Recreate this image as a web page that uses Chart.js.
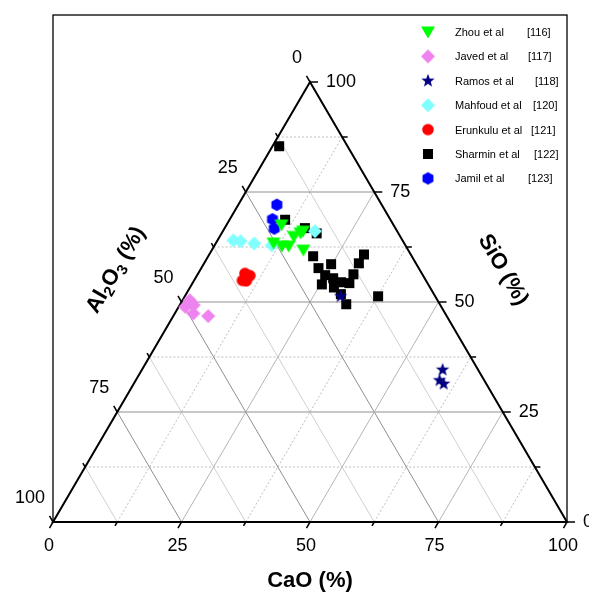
<!DOCTYPE html>
<html>
<head>
<meta charset="utf-8">
<script src="https://cdn.jsdelivr.net/npm/chart.js@4.4.1/dist/chart.umd.min.js"></script>
<style>
  html, body { margin: 0; padding: 0; background: #fff; }
</style>
</head>
<body>
<canvas id="ternary" width="589" height="594"></canvas>
<script>
// compositions, each point is [CaO, SiO, Al2O3] in %
const zhou = [[10.7, 67.5, 21.8], [14.4, 64.9, 20.7], [15.3, 65.7, 19.0], [15.6, 66.1, 18.3],
              [11.2, 63.4, 25.4], [13.2, 62.7, 24.1], [14.5, 62.7, 22.8], [17.8, 61.8, 20.4]];
const javed = [[1.4, 50.4, 48.2], [1.3, 48.9, 49.8], [2.7, 49.3, 48.0], [3.6, 47.4, 49.0], [6.8, 46.8, 46.4]];
const ramos = [[30.3, 51.3, 18.4], [58.5, 34.6, 6.9], [59.1, 32.2, 8.7], [60.3, 31.4, 8.3]];
const mahfoud = [[3.1, 64.0, 32.9], [4.6, 63.8, 31.6], [7.5, 63.3, 29.2], [11.1, 62.9, 26.0], [17.9, 66.1, 16.0]];
const erunkulu = [[9.1, 56.5, 34.4], [10.3, 56.0, 33.7], [9.4, 54.9, 35.7], [10.2, 54.8, 35.0]];
const sharmin = [[1.3, 85.4, 13.3], [10.8, 68.7, 20.5], [15.6, 66.8, 17.6], [18.5, 65.6, 15.9],
                 [20.4, 60.4, 19.2], [22.8, 57.7, 19.5], [24.8, 58.6, 16.6], [24.9, 56.1, 19.0],
                 [26.8, 55.4, 17.8], [25.3, 54.0, 20.7], [28.8, 54.5, 16.7], [30.5, 54.3, 15.2],
                 [30.3, 56.3, 13.4], [30.1, 58.8, 11.1], [30.1, 60.8, 9.1], [28.0, 53.3, 18.7],
                 [30.1, 51.8, 18.1], [32.3, 49.5, 18.2], [37.6, 51.3, 11.1]];
const jamil = [[7.5, 72.1, 20.4], [8.3, 68.8, 22.9], [9.7, 66.7, 23.6]];

const seriesNames = ['Zhou et al', 'Javed et al', 'Ramos et al', 'Mahfoud et al', 'Erunkulu et al', 'Sharmin et al', 'Jamil et al'];
const seriesRefs = ['[116]', '[117]', '[118]', '[120]', '[121]', '[122]', '[123]'];
const majorTicks = [0, 25, 50, 75, 100];
const minorTicks = [12.5, 37.5, 62.5, 87.5];

// ternary -> cartesian (CaO to the right, SiO up)
function toXY(p) {
    return { x: p[0] + p[1] / 2, y: p[1] };
}

// marker pictures, used both for the points and the legend
function marker(kind, color) {
    const c = document.createElement('canvas');
    c.width = 16; c.height = 16;
    const g = c.getContext('2d');
    g.fillStyle = color;
    g.translate(8, 8);
    g.beginPath();
    if (kind === 'tri') {
        g.moveTo(-7, -5.5); g.lineTo(7, -5.5); g.lineTo(0, 6.5);
    } else if (kind === 'diamond') {
        g.moveTo(0, -7); g.lineTo(7, 0); g.lineTo(0, 7); g.lineTo(-7, 0);
    } else if (kind === 'star') {
        for (let i = 0; i < 10; i++) {
            const r = i % 2 ? 2.9 : 7;
            const a = -Math.PI / 2 + i * Math.PI / 5;
            g.lineTo(r * Math.cos(a), r * Math.sin(a));
        }
    } else if (kind === 'circle') {
        g.arc(0, 0, 5.8, 0, Math.PI * 2);
    } else if (kind === 'square') {
        g.rect(-5, -5, 10, 10);
    } else if (kind === 'hex') {
        for (let i = 0; i < 6; i++) {
            const a = Math.PI / 6 + i * Math.PI / 3;
            g.lineTo(6.3 * Math.cos(a), 6.3 * Math.sin(a));
        }
    }
    g.closePath();
    g.fill();
    return c;
}

const markers = [
    marker('tri', '#00ff00'),
    marker('diamond', '#ee82ee'),
    marker('star', '#000080'),
    marker('diamond', '#80ffff'),
    marker('circle', '#ff0000'),
    marker('square', '#000000'),
    marker('hex', '#0000ff')
];
const allSeries = [zhou, javed, ramos, mahfoud, erunkulu, sharmin, jamil];

const ternaryPlugin = {
    id: 'ternaryPlugin',
    beforeDatasetsDraw(chart) {
        const ctx = chart.ctx;
        const xs = chart.scales.x, ys = chart.scales.y;
        const px = (cao, sio) => [xs.getPixelForValue(cao + sio / 2), ys.getPixelForValue(sio)];
        const line = (a, b) => { ctx.beginPath(); ctx.moveTo(a[0], a[1]); ctx.lineTo(b[0], b[1]); ctx.stroke(); };
        ctx.save();

        // outer frame
        ctx.strokeStyle = '#000';
        ctx.lineWidth = 1.3;
        ctx.strokeRect(xs.left, 15, xs.right - xs.left, ys.bottom - 15);

        // grid
        ctx.lineWidth = 1;
        minorTicks.forEach(v => {
            ctx.setLineDash([]);
            ctx.strokeStyle = '#cfcfcf';
            line(px(100 - v, 0), px(0, 100 - v));       // Al2O3
            ctx.setLineDash([2, 2]);
            ctx.strokeStyle = '#bdbdbd';
            line(px(v, 0), px(v, 100 - v));             // CaO
            line(px(0, v), px(100 - v, v));             // SiO
        });
        ctx.setLineDash([]);
        [25, 50, 75].forEach(v => {
            ctx.strokeStyle = '#8f8f8f';
            line(px(100 - v, 0), px(0, 100 - v));
            line(px(0, v), px(100 - v, v));
            ctx.strokeStyle = '#b4b4b4';
            line(px(v, 0), px(v, 100 - v));
        });

        // triangle
        ctx.strokeStyle = '#000';
        ctx.lineWidth = 2;
        ctx.beginPath();
        ctx.moveTo(...px(0, 0)); ctx.lineTo(...px(100, 0)); ctx.lineTo(...px(0, 100)); ctx.closePath();
        ctx.stroke();

        // ticks
        ctx.lineWidth = 1.5;
        const unit = (a, b) => { const dx = b[0] - a[0], dy = b[1] - a[1], l = Math.hypot(dx, dy); return [dx / l, dy / l]; };
        for (let v = 0; v <= 100; v += 12.5) {
            const len = v % 25 === 0 ? 7 : 4.5;
            let p = px(v, 0), d = unit(px(v, 10), px(v, 0));
            line(p, [p[0] + d[0] * len, p[1] + d[1] * len]);
            p = px(100 - v, v);
            line(p, [p[0] + len + 1, p[1]]);
            p = px(0, 100 - v); d = unit(px(10, 90 - v), px(0, 100 - v));
            line(p, [p[0] + d[0] * len, p[1] + d[1] * len]);
        }

        // tick labels
        ctx.fillStyle = '#000';
        ctx.font = '18px "Liberation Sans", Arial, sans-serif';
        ctx.textBaseline = 'middle';
        majorTicks.forEach(v => {
            let p = px(v, 0);
            ctx.textAlign = 'center';
            ctx.fillText(String(v), p[0] - 4, p[1] + 24);
            p = px(100 - v, v);
            ctx.textAlign = 'left';
            ctx.fillText(String(v), p[0] + 16, p[1]);
            p = px(0, 100 - v);
            ctx.textAlign = 'right';
            ctx.fillText(String(v), p[0] - 8, p[1] - 24);
        });

        // axis titles
        const bold = s => 'bold ' + s + 'px "Liberation Sans", Arial, sans-serif';
        ctx.font = bold(22);
        ctx.textAlign = 'center';
        ctx.fillText('CaO (%)', 310, 581);

        const ang = Math.atan2(ys.bottom - ys.top, (xs.right - xs.left) / 2);
        ctx.save();
        ctx.translate(503, 270);
        ctx.rotate(ang);
        ctx.fillText('SiO (%)', 0, 0);
        ctx.restore();

        const parts = [['Al', 22, 0], ['2', 15, 6], ['O', 22, 0], ['3', 15, 6], [' (%)', 22, 0]];
        let total = 0;
        parts.forEach(t => { ctx.font = bold(t[1]); total += ctx.measureText(t[0]).width; });
        ctx.save();
        ctx.translate(116, 270);
        ctx.rotate(-ang);
        ctx.textAlign = 'left';
        let cx = -total / 2;
        parts.forEach(t => {
            ctx.font = bold(t[1]);
            ctx.fillText(t[0], cx, t[2]);
            cx += ctx.measureText(t[0]).width;
        });
        ctx.restore();
        ctx.restore();
    },
    afterDraw(chart) {
        const ctx = chart.ctx;
        ctx.save();
        ctx.font = '11px "Liberation Sans", Arial, sans-serif';
        ctx.fillStyle = '#000';
        ctx.textBaseline = 'middle';
        ctx.textAlign = 'left';
        const refX = [527, 528, 535, 533, 531, 534, 528];
        seriesNames.forEach((name, i) => {
            const y = 32 + i * 24.4;
            ctx.drawImage(markers[i], 428 - 8, y - 8);
            ctx.fillText(name, 455, y + 1);
            ctx.fillText(seriesRefs[i], refX[i], y + 1);
        });
        ctx.restore();
    }
};

const ctx = document.getElementById('ternary').getContext('2d');
const chart = new Chart(ctx, {
    type: 'scatter',
    data: {
        datasets: allSeries.map((s, i) => ({
            label: seriesNames[i],
            data: s.map(toXY),
            pointStyle: markers[i],
            pointRadius: 7,
            order: i === 5 ? 1 : 0,
            clip: false
        }))
    },
    options: {
        responsive: false,
        animation: false,
        layout: { padding: { left: 53, right: 22, top: 82, bottom: 72 } },
        plugins: {
            legend: { display: false },
            tooltip: { enabled: false }
        },
        scales: {
            x: { type: 'linear', min: 0, max: 100, display: false },
            y: { type: 'linear', min: 0, max: 100, display: false }
        }
    },
    plugins: [ternaryPlugin]
});
</script>
</body>
</html>
